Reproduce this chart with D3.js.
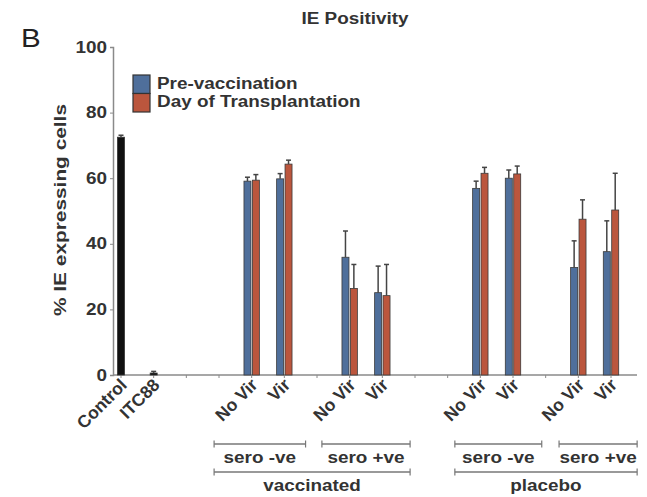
<!DOCTYPE html>
<html>
<head>
<meta charset="utf-8">
<script src="https://cdn.jsdelivr.net/npm/d3@7"></script>
<style>
  body { margin: 0; background: #fff; }
  text { font-family: "Liberation Sans", Arial, sans-serif; }
</style>
</head>
<body>
<svg id="chart" width="647" height="497"></svg>
<script>
(function() {

// categories along the x axis (blank = empty slot)
const categories = ["Control", "ITC88", "", "", "No Vir", "Vir", "", "No Vir", "Vir", "", "", "No Vir", "Vir", "", "No Vir", "Vir"];
// single bars (Control, ITC88)
const singleVals = [72.5, 0.6];
const singleErr = [0.6, 0.5];
// paired bars, aligned with categories
const preVac    = [null, null, null, null, 59.1, 59.8, null, 35.9, 25.1, null, null, 56.9, 60.0, null, 32.8, 37.6];
const preVacErr = [null, null, null, null, 1.2, 1.6, null, 8.0, 8.1, null, null, 2.2, 2.5, null, 8.1, 9.4];
const dayTx     = [null, null, null, null, 59.4, 64.3, null, 26.4, 24.2, null, null, 61.5, 61.3, null, 47.5, 50.3];
const dayTxErr  = [null, null, null, null, 1.7, 1.2, null, 7.3, 9.5, null, null, 1.8, 2.4, null, 5.9, 11.2];
const yTicks = [0, 20, 40, 60, 80, 100];
const seriesNames = ["Pre-vaccination", "Day of Transplantation"];
const colors = ["#4f6f9b", "#bb563d"];
// bracket groups: [from slot, to slot, label, level]
const brackets = [
  [2.85, 5.65, "sero -ve", 0], [6.15, 8.85, "sero +ve", 0],
  [10.22, 12.88, "sero -ve", 0], [13.41, 15.8, "sero +ve", 0],
  [2.85, 8.85, "vaccinated", 1], [10.22, 15.8, "placebo", 1]
];

const svg = d3.select("#chart");

// the figure looks stretched sideways, so widen horizontal texts a bit
const stretchK = 1.18;
function stretch(sel) {
  sel.each(function() {
    const w = this.getComputedTextLength();
    if (w > 0) d3.select(this).attr("textLength", w * stretchK).attr("lengthAdjust", "spacingAndGlyphs");
  });
}

const x = d3.scaleLinear()
  .domain([0, categories.length - 1])
  .range([121, 611]);

const y = d3.scaleLinear()
  .domain([0, 100])
  .range([375, 47]);

const axisColor = "#8a8a8a";
const textColor = "#333";
const barW = 7;

// title and panel letter
svg.append("text")
  .attr("x", 355).attr("y", 24)
  .attr("text-anchor", "middle")
  .style("font-size", "16px").style("font-weight", "bold").attr("fill", textColor)
  .text("IE Positivity")
  .call(stretch);

svg.append("text")
  .attr("x", 21).attr("y", 47)
  .style("font-size", "25px").attr("fill", "#222")
  .text("B")
  .call(stretch);

// y axis
const yAxis = svg.append("g")
  .attr("transform", "translate(113,0)")
  .call(d3.axisLeft(y).tickValues(yTicks).tickSize(3).tickPadding(3));
yAxis.select(".domain").attr("stroke", axisColor).attr("stroke-width", 1.5);
yAxis.selectAll(".tick line").attr("stroke", axisColor);
yAxis.selectAll(".tick text")
  .attr("font-family", "Liberation Sans, Arial, sans-serif")
  .style("font-size", "16px").style("font-weight", "bold")
  .attr("fill", textColor)
  .call(stretch);

svg.append("text")
  .attr("transform", "translate(66,210) rotate(-90)")
  .attr("text-anchor", "middle")
  .style("font-size", "17px").style("font-weight", "bold").attr("fill", textColor)
  .attr("textLength", 212).attr("lengthAdjust", "spacingAndGlyphs")
  .text("% IE expressing cells");

// x axis line and ticks
svg.append("line")
  .attr("x1", 113).attr("x2", 637)
  .attr("y1", y(0)).attr("y2", y(0))
  .attr("stroke", axisColor).attr("stroke-width", 1.5);

svg.selectAll(".xtick")
  .data(categories)
  .enter().append("line")
  .attr("class", "xtick")
  .attr("x1", (d, i) => x(i)).attr("x2", (d, i) => x(i))
  .attr("y1", y(0)).attr("y2", y(0) + 3)
  .attr("stroke", axisColor);

// bars
const errLine = (g, cx, v, e) => {
  g.append("line").attr("x1", cx).attr("x2", cx)
    .attr("y1", y(v)).attr("y2", y(v + e))
    .attr("stroke", "#444").attr("stroke-width", 1.5);
  g.append("line").attr("x1", cx - 2.5).attr("x2", cx + 2.5)
    .attr("y1", y(v + e)).attr("y2", y(v + e))
    .attr("stroke", "#444").attr("stroke-width", 1.5);
};

const bars = svg.append("g");

// single black bars
singleVals.forEach((v, i) => {
  bars.append("rect")
    .attr("x", x(i) - 3.5).attr("width", 7)
    .attr("y", y(v)).attr("height", y(0) - y(v))
    .attr("fill", "#111").attr("stroke", "#333").attr("stroke-width", 0.8);
  errLine(bars, x(i), v, singleErr[i]);
});

// paired bars
[preVac, dayTx].forEach((vals, s) => {
  const errs = s === 0 ? preVacErr : dayTxErr;
  vals.forEach((v, i) => {
    if (v == null) return;
    const cx = x(i) + (s === 0 ? -4.2 : 4.2);
    bars.append("rect")
      .attr("x", cx - barW / 2).attr("width", barW)
      .attr("y", y(v)).attr("height", y(0) - y(v))
      .attr("fill", colors[s]).attr("stroke", "#3a3a3a").attr("stroke-width", 0.8);
    errLine(bars, cx, v, errs[i]);
  });
});

// x labels, rotated
svg.selectAll(".xlabel")
  .data(categories)
  .enter().append("text")
  .attr("class", "xlabel")
  .attr("transform", (d, i) => `translate(${x(i) + 7},${y(0) + 11}) rotate(-45)`)
  .attr("text-anchor", "end")
  .style("font-size", "17.5px").style("font-weight", "bold").attr("fill", textColor)
  .text(d => d);

// legend
const legend = svg.append("g").attr("transform", "translate(133,75)");
seriesNames.forEach((name, i) => {
  legend.append("rect")
    .attr("x", 0).attr("y", i * 18.5)
    .attr("width", 17).attr("height", 18.5)
    .attr("fill", colors[i]).attr("stroke", "#333").attr("stroke-width", 1.2);
  legend.append("text")
    .attr("x", 24).attr("y", i * 17.5 + 14)
    .style("font-size", "16px").style("font-weight", "bold").attr("fill", textColor)
    .text(name)
    .call(stretch);
});

// brackets below the axis
brackets.forEach(([a, b, label, level]) => {
  const x0 = x(a), x1 = x(b);
  const ly = level === 0 ? 444 : 472;
  const g = svg.append("g");
  g.append("line").attr("x1", x0).attr("x2", x1).attr("y1", ly).attr("y2", ly)
    .attr("stroke", "#777").attr("stroke-width", 1.5);
  [x0, x1].forEach(xx => g.append("line")
    .attr("x1", xx).attr("x2", xx).attr("y1", ly - 3.5).attr("y2", ly + 3.5)
    .attr("stroke", "#777").attr("stroke-width", 1.2));
  g.append("text")
    .attr("x", (x0 + x1) / 2).attr("y", ly + 19)
    .attr("text-anchor", "middle")
    .style("font-size", "16px").style("font-weight", "bold").attr("fill", textColor)
    .text(label)
    .call(stretch);
});

})();
</script>
</body>
</html>
